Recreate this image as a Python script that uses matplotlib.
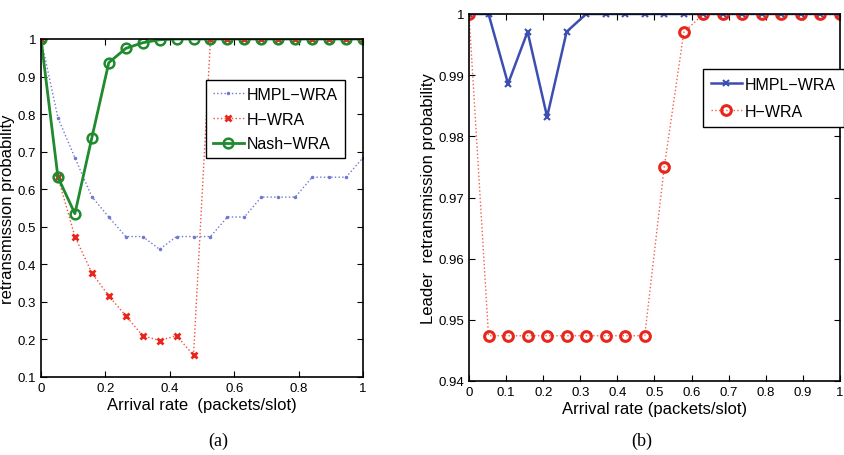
import matplotlib.pyplot as plt
import numpy as np

plt.rcParams['font.family'] = ['Liberation Sans', 'DejaVu Sans']

arrival = np.linspace(0, 1, 20)

# panel (a)
hmpl_a = [1.0, 0.79, 0.684, 0.58, 0.526, 0.474, 0.474, 0.44, 0.474, 0.474,
          0.474, 0.526, 0.526, 0.579, 0.579, 0.579, 0.632, 0.632, 0.632, 0.684]
hwra_a = [1.0, 0.632, 0.474, 0.377, 0.316, 0.263, 0.21, 0.197, 0.21, 0.158,
          1.0, 1.0, 1.0, 1.0, 1.0, 1.0, 1.0, 1.0, 1.0, 1.0]
nash_a = [1.0, 0.632, 0.535, 0.737, 0.937, 0.975, 0.99, 0.998, 1.0, 1.0,
          1.0, 1.0, 1.0, 1.0, 1.0, 1.0, 1.0, 1.0, 1.0, 1.0]

# panel (b)
hmpl_b = [1.0, 1.0, 0.9886, 0.9971, 0.9832, 0.9971, 1.0, 1.0, 1.0, 1.0,
          1.0, 1.0, 1.0, 1.0, 1.0, 1.0, 1.0, 1.0, 1.0, 1.0]
hwra_b = [1.0, 0.9474, 0.9474, 0.9474, 0.9474, 0.9474, 0.9474, 0.9474, 0.9474, 0.9474,
          0.975, 0.997, 1.0, 1.0, 1.0, 1.0, 1.0, 1.0, 1.0, 1.0]

W, H = 845, 456
fig = plt.figure(figsize=(W / 100, H / 100), dpi=100)

ax1 = fig.add_axes([41 / W, 1 - 378 / H, (363 - 41) / W, (378 - 40) / H])
ax2 = fig.add_axes([469 / W, 1 - 382 / H, (840 - 469) / W, (382 - 15) / H])

blue = '#3c4fb0'
red = '#e8261c'
green = '#1f8a2e'

ax1.plot(arrival, hmpl_a, linestyle=':', color='#6f78d0', marker='.', markersize=3,
         linewidth=1, label='HMPL\u2212WRA')
ax1.plot(arrival, hwra_a, linestyle=':', color='#f05040', marker='x', markersize=5,
         markeredgewidth=2, markeredgecolor=red, linewidth=1, label='H\u2212WRA')
ax1.plot(arrival, nash_a, linestyle='-', color=green, marker='o', markersize=7,
         markerfacecolor='none', markeredgewidth=1.8, linewidth=2, label='Nash\u2212WRA')
ax1.set_xlim(0, 1)
ax1.set_ylim(0.1, 1)
ax1.set_xticks(np.arange(0, 1.01, 0.2))
ax1.set_xticklabels(['0', '0.2', '0.4', '0.6', '0.8', '1'])
ax1.set_yticks(np.arange(0.1, 1.01, 0.1))
ax1.set_yticklabels(['0.1', '0.2', '0.3', '0.4', '0.5', '0.6', '0.7', '0.8', '0.9', '1'])
ax1.set_xlabel('Arrival rate  (packets/slot)', fontsize=12, labelpad=2)
ax1.set_ylabel('retransmission probability', fontsize=12, labelpad=2)
ax1.legend(loc='upper right', bbox_to_anchor=(0.944, 0.879), borderaxespad=0,
           fontsize=11.5, fancybox=False, edgecolor='black', framealpha=1,
           handlelength=1.9, handletextpad=0.2, borderpad=0.45, labelspacing=0.6)

ax2.plot(arrival, hmpl_b, linestyle='-', color=blue, marker='x', markersize=4,
         markeredgewidth=1.5, linewidth=1.8, label='HMPL\u2212WRA')
ax2.plot(arrival, hwra_b, linestyle=':', color='#f06050', marker='o', markersize=7,
         markerfacecolor='none', markeredgecolor=red, markeredgewidth=2.2,
         linewidth=1, label='H\u2212WRA')
ax2.set_xlim(0, 1)
ax2.set_ylim(0.94, 1.0)
ax2.set_xticks(np.arange(0, 1.01, 0.1))
ax2.set_xticklabels(['0', '0.1', '0.2', '0.3', '0.4', '0.5', '0.6', '0.7', '0.8', '0.9', '1'])
ax2.set_yticks(np.arange(0.94, 1.001, 0.01))
ax2.set_yticklabels(['0.94', '0.95', '0.96', '0.97', '0.98', '0.99', '1'])
ax2.set_xlabel('Arrival rate (packets/slot)', fontsize=12, labelpad=2)
ax2.set_ylabel('Leader  retransmission probability', fontsize=12, labelpad=2)
ax2.legend(loc='upper right', bbox_to_anchor=(1.01, 0.85), borderaxespad=0,
           fontsize=11.5, fancybox=False, edgecolor='black', framealpha=1,
           handlelength=1.9, handletextpad=0.2, borderpad=0.5, labelspacing=0.75)

for ax in (ax1, ax2):
    ax.tick_params(direction='in', top=True, right=True, labelsize=9.5, length=4)
    for s in ax.spines.values():
        s.set_linewidth(1.2)

fig.text(218 / W, 1 - 441 / H, '(a)', ha='center', va='center', fontsize=13,
         family='Liberation Serif')
fig.text(642 / W, 1 - 441 / H, '(b)', ha='center', va='center', fontsize=13,
         family='Liberation Serif')

fig.savefig('out.png', dpi=100)
